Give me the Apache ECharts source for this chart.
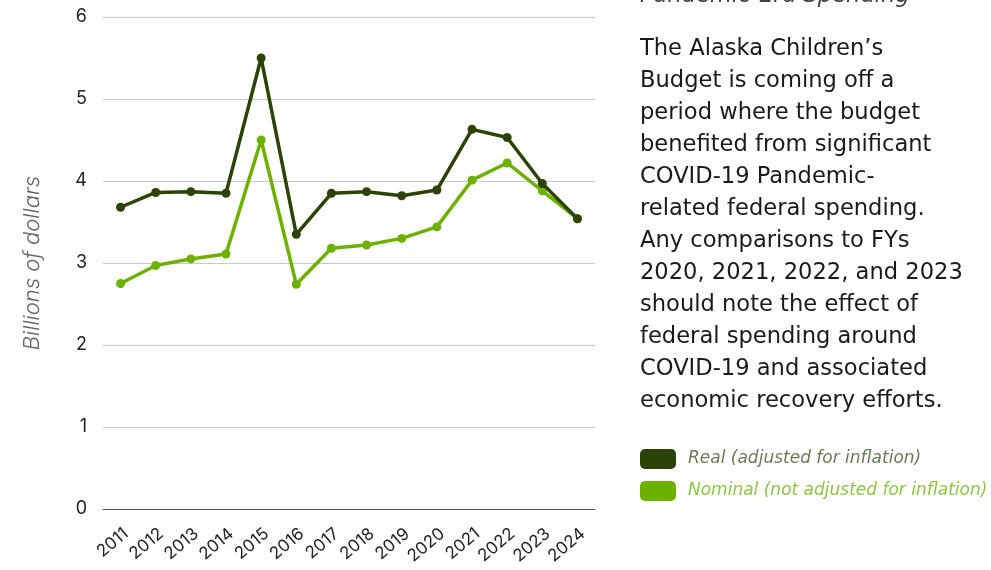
<!DOCTYPE html>
<html>
<head>
<meta charset="utf-8">
<script src="https://cdn.jsdelivr.net/npm/echarts@6/dist/echarts.min.js"></script>
<style>html,body{margin:0;padding:0;background:#fff;}#c{width:991px;height:570px;}</style>
</head>
<body>
<div id="c"></div>
<script>
const years = ['2011','2012','2013','2014','2015','2016','2017','2018','2019','2020','2021','2022','2023','2024'];
const realValues = [3.68, 3.86, 3.87, 3.85, 5.50, 3.35, 3.85, 3.87, 3.82, 3.89, 4.63, 4.53, 3.97, 3.54];
const nominalValues = [2.75, 2.97, 3.05, 3.11, 4.50, 2.74, 3.18, 3.22, 3.30, 3.44, 4.01, 4.22, 3.88, 3.54];
const seriesNames = ['Real (adjusted for inflation)', 'Nominal (not adjusted for inflation)'];
const sideTitle = 'Pandemic-Era Spending';
const sideText = 'The Alaska Children\u2019s\nBudget is coming off a\nperiod where the budget\nbenefited from significant\nCOVID-19 Pandemic-\nrelated federal spending.\nAny comparisons to FYs\n2020, 2021, 2022, and 2023\nshould note the effect of\nfederal spending around\nCOVID-19 and associated\neconomic recovery efforts.';

const FONT = 'Inter, "Noto Sans", sans-serif';
const WIDE = '"DejaVu Sans", Inter, sans-serif';
const DARK = '#2b4304';
const LIGHT = '#6cb000';

const chart = echarts.init(document.getElementById('c'));
chart.setOption({
  animation: false,
  textStyle: {fontFamily: FONT},
  grid: {left: 103, right: 396, top: 17, bottom: 61, containLabel: false},
  xAxis: {
    type: 'category',
    data: years,
    boundaryGap: true,
    axisLine: {lineStyle: {color: '#555', width: 1}},
    axisTick: {show: false},
    axisLabel: {rotate: 40, color: '#222', fontSize: 17, fontFamily: FONT, margin: 16, interval: 0, verticalAlign: 'top'}
  },
  yAxis: {
    type: 'value',
    min: 0, max: 6, interval: 1,
    name: 'Billions of dollars',
    nameLocation: 'middle',
    nameGap: 60,
    nameTextStyle: {fontStyle: 'italic', fontSize: 22, color: '#666', fontWeight: 300, fontFamily: FONT},
    axisLine: {show: false},
    axisTick: {show: false},
    axisLabel: {color: '#222', fontSize: 18, margin: 16, fontFamily: FONT},
    splitLine: {lineStyle: {color: '#c8c8c8', width: 1}}
  },
  legend: {
    orient: 'vertical',
    left: 635, top: 444,
    itemWidth: 36, itemHeight: 20, itemGap: 12,
    icon: 'roundRect',
    data: [
      {name: seriesNames[0], textStyle: {color: '#6b7a55'}},
      {name: seriesNames[1], textStyle: {color: '#8cc63f'}}
    ],
    textStyle: {fontStyle: 'italic', fontSize: 17, fontFamily: WIDE, fontWeight: 'normal', padding: [0, 0, 0, 7]}
  },
  graphic: [
    {type: 'text', left: 640, top: -15, style: {text: sideTitle, font: 'italic 22.6px ' + WIDE, fill: '#444'}},
    {type: 'text', left: 640, top: 33, style: {text: sideText, font: '22.6px ' + WIDE, fill: '#1a1a1a', lineHeight: 32}}
  ],
  series: [
    {name: seriesNames[1], type: 'line', data: nominalValues, color: LIGHT, symbol: 'circle', symbolSize: 9,
     lineStyle: {width: 3.5, color: LIGHT}, itemStyle: {color: LIGHT}, z: 2},
    {name: seriesNames[0], type: 'line', data: realValues, color: DARK, symbol: 'circle', symbolSize: 9,
     lineStyle: {width: 3.5, color: DARK}, itemStyle: {color: DARK}, z: 3}
  ]
});
</script>
</body>
</html>
